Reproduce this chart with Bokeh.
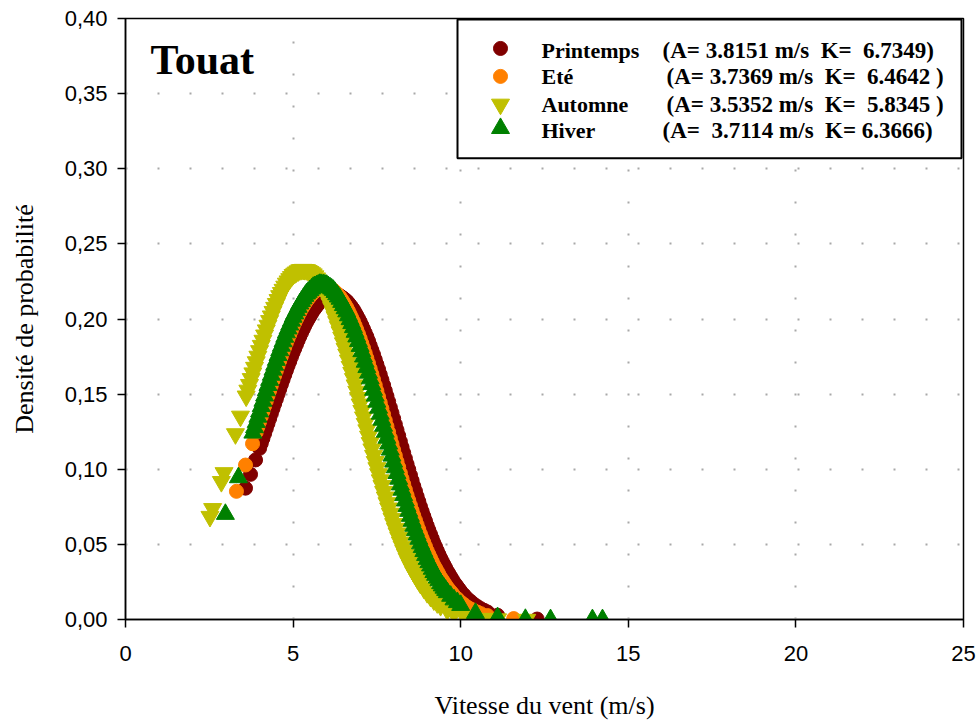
from bokeh.plotting import figure
from bokeh.models import Range1d, FixedTicker, CustomJSTickFormatter, BoxAnnotation, Label
from bokeh.embed import file_html
from bokeh.resources import INLINE

# ---------------- data: Weibull density per season, station Touat ----------------
X_TICKS = [0, 5, 10, 15, 20, 25]
Y_TICKS = [0.0, 0.05, 0.10, 0.15, 0.20, 0.25, 0.30, 0.35, 0.40]

season_names = ["Printemps", "Eté", "Automne", "Hiver"]
season_params = [
    "(A=\u00a03.8151 m/s\u00a0\u00a0K=\u00a0\u00a06.7349)",
    "(A=\u00a03.7369 m/s\u00a0\u00a0K=\u00a0\u00a06.4642 )",
    "(A=\u00a03.5352 m/s\u00a0\u00a0K=\u00a0\u00a05.8345 )",
    "(A=\u00a0\u00a03.7114 m/s\u00a0\u00a0K=\u00a06.3666)",
]

# (wind speed m/s, probability density)
printemps = [
    (3.58, .0874), (3.73, .0966), (3.88, .1062),
    (4.00, .1139), (4.05, .1172), (4.10, .1205), (4.15, .1238), (4.20, .1271), (4.25, .1304),
    (4.30, .1337), (4.35, .1370), (4.40, .1403), (4.45, .1436), (4.50, .1468), (4.55, .1501),
    (4.60, .1533), (4.65, .1565), (4.70, .1596), (4.75, .1628), (4.80, .1659), (4.85, .1689),
    (4.90, .1718), (4.95, .1748), (5.00, .1777), (5.05, .1804), (5.10, .1831), (5.15, .1858),
    (5.20, .1884), (5.25, .1908), (5.30, .1932), (5.35, .1955), (5.40, .1978), (5.45, .1998),
    (5.50, .2017), (5.55, .2036), (5.60, .2055), (5.65, .2070), (5.70, .2085), (5.75, .2099),
    (5.80, .2113), (5.85, .2123), (5.90, .2132), (5.95, .2141), (6.00, .2150), (6.05, .2154),
    (6.10, .2158), (6.15, .2161), (6.20, .2164), (6.25, .2162), (6.30, .2160), (6.35, .2157),
    (6.40, .2154), (6.45, .2146), (6.50, .2138), (6.55, .2129), (6.60, .2120), (6.65, .2107),
    (6.70, .2093), (6.75, .2078), (6.80, .2063), (6.85, .2044), (6.90, .2024), (6.95, .2003),
    (7.00, .1982), (7.05, .1958), (7.10, .1933), (7.15, .1908), (7.20, .1882), (7.25, .1853),
    (7.30, .1823), (7.35, .1793), (7.40, .1763), (7.45, .1730), (7.50, .1697), (7.55, .1664),
    (7.60, .1630), (7.65, .1595), (7.70, .1559), (7.75, .1523), (7.80, .1487), (7.85, .1450),
    (7.90, .1412), (7.95, .1375), (8.00, .1337), (8.05, .1299), (8.10, .1261), (8.15, .1223),
    (8.20, .1185), (8.25, .1147), (8.30, .1109), (8.35, .1072), (8.40, .1034), (8.45, .0998),
    (8.50, .0961), (8.55, .0925), (8.60, .0888), (8.65, .0854), (8.70, .0819), (8.75, .0785),
    (8.80, .0751), (8.85, .0719), (8.90, .0687), (8.95, .0656), (9.00, .0624), (9.05, .0595),
    (9.10, .0566), (9.15, .0538), (9.20, .0509), (9.25, .0484), (9.30, .0458), (9.35, .0433),
    (9.40, .0408), (9.45, .0387), (9.50, .0365), (9.55, .0344), (9.60, .0322), (9.65, .0304),
    (9.70, .0285), (9.75, .0267), (9.80, .0248), (9.85, .0233), (9.90, .0218), (9.95, .0203),
    (10.0, .0188), (10.1, .0163), (10.2, .0139), (10.3, .0120), (10.4, .0101), (10.5, .0086),
    (10.6, .0072), (10.7, .0061), (10.8, .0050), (11.1, .0028), (12.28, .0003),
]

ete = [
    (3.31, .0853), (3.58, .1028), (3.79, .1170),
    (3.90, .1247), (3.95, .1282), (4.00, .1316), (4.05, .1351), (4.10, .1386), (4.15, .1421),
    (4.20, .1455), (4.25, .1489), (4.30, .1523), (4.35, .1557), (4.40, .1591), (4.45, .1624),
    (4.50, .1656), (4.55, .1689), (4.60, .1721), (4.65, .1752), (4.70, .1782), (4.75, .1812),
    (4.80, .1842), (4.85, .1870), (4.90, .1897), (4.95, .1924), (5.00, .1951), (5.05, .1975),
    (5.10, .1999), (5.15, .2022), (5.20, .2045), (5.25, .2065), (5.30, .2084), (5.35, .2102),
    (5.40, .2120), (5.45, .2135), (5.50, .2149), (5.55, .2162), (5.60, .2175), (5.65, .2184),
    (5.70, .2192), (5.75, .2199), (5.80, .2206), (5.85, .2209), (5.90, .2211), (5.95, .2212),
    (6.00, .2212), (6.05, .2208), (6.10, .2204), (6.15, .2198), (6.20, .2192), (6.25, .2182),
    (6.30, .2171), (6.35, .2159), (6.40, .2147), (6.45, .2130), (6.50, .2113), (6.55, .2095),
    (6.60, .2076), (6.65, .2054), (6.70, .2031), (6.75, .2007), (6.80, .1983), (6.85, .1956),
    (6.90, .1928), (6.95, .1899), (7.00, .1870), (7.05, .1838), (7.10, .1806), (7.15, .1773),
    (7.20, .1739), (7.25, .1704), (7.30, .1669), (7.35, .1633), (7.40, .1596), (7.45, .1559),
    (7.50, .1521), (7.55, .1482), (7.60, .1443), (7.65, .1404), (7.70, .1364), (7.75, .1325),
    (7.80, .1285), (7.85, .1246), (7.90, .1207), (7.95, .1168), (8.00, .1128), (8.05, .1090),
    (8.10, .1051), (8.15, .1013), (8.20, .0974), (8.25, .0937), (8.30, .0900), (8.35, .0864),
    (8.40, .0827), (8.45, .0793), (8.50, .0759), (8.55, .0725), (8.60, .0691), (8.65, .0660),
    (8.70, .0629), (8.75, .0598), (8.80, .0567), (8.85, .0540), (8.90, .0512), (8.95, .0485),
    (9.00, .0457), (9.05, .0433), (9.10, .0409), (9.15, .0385), (9.20, .0361), (9.25, .0341),
    (9.30, .0321), (9.35, .0301), (9.40, .0280), (9.45, .0264), (9.50, .0247), (9.55, .0230),
    (9.60, .0213), (9.65, .0200), (9.70, .0186), (9.75, .0173), (9.80, .0159), (9.90, .0138),
    (10.0, .0116), (10.1, .0099), (10.2, .0082), (10.3, .0070), (10.4, .0058), (10.5, .0049),
    (10.6, .0039), (10.8, .0026), (11.58, .0006),
]

automne = [
    (2.52, .0685), (2.60, .0737), (2.86, .0917), (2.94, .0976), (3.28, .1235), (3.43, .1352),
    (3.60, .1486), (3.65, .1525), (3.70, .1563), (3.75, .1602), (3.80, .1640), (3.85, .1677),
    (3.90, .1714), (3.95, .1751), (4.00, .1788), (4.05, .1823), (4.10, .1857), (4.15, .1892),
    (4.20, .1926), (4.25, .1957), (4.30, .1988), (4.35, .2019), (4.40, .2049), (4.45, .2076),
    (4.50, .2102), (4.55, .2128), (4.60, .2154), (4.65, .2175), (4.70, .2196), (4.75, .2217),
    (4.80, .2237), (4.85, .2252), (4.90, .2267), (4.95, .2281), (5.00, .2295), (5.05, .2304),
    (5.10, .2312), (5.15, .2319), (5.20, .2326), (5.25, .2328), (5.30, .2329), (5.35, .2328),
    (5.40, .2327), (5.45, .2321), (5.50, .2315), (5.55, .2307), (5.60, .2299), (5.65, .2286),
    (5.70, .2272), (5.75, .2257), (5.80, .2242), (5.85, .2222), (5.90, .2201), (5.95, .2179),
    (6.00, .2157), (6.05, .2130), (6.10, .2103), (6.15, .2075), (6.20, .2046), (6.25, .2014),
    (6.30, .1981), (6.35, .1948), (6.40, .1914), (6.45, .1877), (6.50, .1840), (6.55, .1803),
    (6.60, .1765), (6.65, .1725), (6.70, .1684), (6.75, .1643), (6.80, .1602), (6.85, .1560),
    (6.90, .1518), (6.95, .1476), (7.00, .1433), (7.05, .1390), (7.10, .1347), (7.15, .1304),
    (7.20, .1261), (7.25, .1219), (7.30, .1176), (7.35, .1134), (7.40, .1091), (7.45, .1050),
    (7.50, .1009), (7.55, .0969), (7.60, .0928), (7.65, .0890), (7.70, .0851), (7.75, .0814),
    (7.80, .0776), (7.85, .0741), (7.90, .0706), (7.95, .0672), (8.00, .0637), (8.05, .0606),
    (8.10, .0575), (8.15, .0545), (8.20, .0514), (8.25, .0487), (8.30, .0459), (8.35, .0433),
    (8.40, .0406), (8.45, .0383), (8.50, .0360), (8.55, .0338), (8.60, .0315), (8.65, .0296),
    (8.70, .0276), (8.75, .0258), (8.80, .0239), (8.90, .0208), (9.00, .0178), (9.10, .0153),
    (9.20, .0129), (9.30, .0110), (9.40, .0092), (9.60, .0064), (9.80, .0043), (10.1, .0024),
    (10.8, .0006), (10.9, .0005), (11.1, .0003), (11.97, .0000),
]

hiver = [
    (2.98, .0701), (3.37, .0945),
    (3.80, .1242), (3.85, .1278), (3.90, .1313), (3.95, .1348), (4.00, .1383), (4.05, .1419),
    (4.10, .1454), (4.15, .1489), (4.20, .1524), (4.25, .1559), (4.30, .1593), (4.35, .1627),
    (4.40, .1661), (4.45, .1694), (4.50, .1726), (4.55, .1758), (4.60, .1790), (4.65, .1820),
    (4.70, .1850), (4.75, .1880), (4.80, .1909), (4.85, .1935), (4.90, .1961), (4.95, .1987),
    (5.00, .2013), (5.05, .2035), (5.10, .2057), (5.15, .2079), (5.20, .2101), (5.25, .2118),
    (5.30, .2135), (5.35, .2152), (5.40, .2168), (5.45, .2179), (5.50, .2190), (5.55, .2201),
    (5.60, .2212), (5.65, .2217), (5.70, .2222), (5.75, .2227), (5.80, .2232), (5.85, .2231),
    (5.90, .2229), (5.95, .2227), (6.00, .2225), (6.05, .2217), (6.10, .2209), (6.15, .2201),
    (6.20, .2192), (6.25, .2178), (6.30, .2163), (6.35, .2148), (6.40, .2133), (6.45, .2112),
    (6.50, .2091), (6.55, .2070), (6.60, .2049), (6.65, .2023), (6.70, .1997), (6.75, .1971),
    (6.80, .1944), (6.85, .1913), (6.90, .1882), (6.95, .1851), (7.00, .1819), (7.05, .1784),
    (7.10, .1749), (7.15, .1714), (7.20, .1678), (7.25, .1641), (7.30, .1603), (7.35, .1565),
    (7.40, .1527), (7.45, .1488), (7.50, .1448), (7.55, .1408), (7.60, .1368), (7.65, .1328),
    (7.70, .1288), (7.75, .1248), (7.80, .1208), (7.85, .1169), (7.90, .1129), (7.95, .1089),
    (8.00, .1049), (8.05, .1011), (8.10, .0973), (8.15, .0935), (8.20, .0897), (8.25, .0862),
    (8.30, .0826), (8.35, .0790), (8.40, .0754), (8.45, .0721), (8.50, .0688), (8.55, .0655),
    (8.60, .0622), (8.65, .0593), (8.70, .0564), (8.75, .0535), (8.80, .0505), (8.85, .0480),
    (8.90, .0454), (8.95, .0428), (9.00, .0402), (9.05, .0380), (9.10, .0358), (9.15, .0336),
    (9.20, .0314), (9.25, .0296), (9.30, .0277), (9.35, .0259), (9.40, .0240), (9.45, .0225),
    (9.50, .0210), (9.55, .0195), (9.60, .0180), (9.70, .0156), (9.80, .0132), (9.90, .0114),
    (10.0, .0095), (10.44, .0042), (11.1, .0014), (11.93, .0002), (12.68, .0000),
    (13.93, .0000), (14.23, .0000),
]

# ---------------- layout ----------------
W, H = 978, 722
FL, FR, FT, FB = 125, 963, 18, 620      # plot frame edges (px)
X_MAX, Y_MAX = 25, 0.40

def dx(px):
    return (px - FL) / (FR - FL) * X_MAX

def dy(py):
    return (FB - py) / (FB - FT) * Y_MAX

SERIF = "Liberation Serif"
SANS = "Liberation Sans"

p = figure(width=W, height=H, output_backend="svg", toolbar_location=None,
           x_range=Range1d(0, X_MAX), y_range=Range1d(0, Y_MAX),
           min_border_left=FL, min_border_right=W - FR,
           min_border_top=FT, min_border_bottom=H - FB)
p.background_fill_color = "white"
p.border_fill_color = "white"
p.outline_line_color = "black"
p.outline_line_width = 1.5

# dotted grid
for g, ticks in ((p.xgrid, X_TICKS), (p.ygrid, Y_TICKS)):
    g.ticker = FixedTicker(ticks=ticks)
    g.grid_line_color = "#a8a8a8"
    g.grid_line_width = 2
    g.grid_line_dash = "2 30"

# axes
p.xaxis.ticker = FixedTicker(ticks=X_TICKS)
p.yaxis.ticker = FixedTicker(ticks=Y_TICKS)
p.yaxis.formatter = CustomJSTickFormatter(code="return tick.toFixed(2).replace('.', ',');")
for ax in (p.xaxis, p.yaxis):
    ax.axis_line_color = "black"
    ax.axis_line_width = 1.5
    ax.major_tick_line_color = "black"
    ax.major_tick_line_width = 1.5
    ax.major_tick_in = 0
    ax.major_tick_out = 8
    ax.minor_tick_in = 0
    ax.minor_tick_out = 0
    ax.major_label_text_font = SANS
    ax.major_label_text_font_size = "22px"
    ax.major_label_text_color = "black"
    ax.axis_label_text_font = SERIF
    ax.axis_label_text_font_size = "26px"
    ax.axis_label_text_font_style = "normal"
    ax.axis_label_text_color = "black"
p.xaxis.major_label_standoff = 18
p.yaxis.major_label_standoff = 10
p.xaxis.axis_label = "Vitesse du vent (m/s)"
p.yaxis.axis_label = "Densité de probabilité"
p.xaxis.axis_label_standoff = 27
p.yaxis.axis_label_standoff = 23

# season markers (drawn in legend order)
colors = ["#800000", "#ff8000", "#c0c000", "#008000"]
markers = ["circle", "circle", "inverted_triangle", "triangle"]
sizes = [14, 14, 18, 18]
series = [printemps, ete, automne, hiver]
for pts, c, m, s in zip(series, colors, markers, sizes):
    xs = [pt[0] for pt in pts]
    ys = [pt[1] for pt in pts]
    p.scatter(xs, ys, marker=m, size=s, fill_color=c, line_color=c)

# station name
p.add_layout(Label(x=dx(150), y=dy(60), text="Touat", text_font=SERIF,
                   text_font_style="bold", text_font_size="42px",
                   text_color="black", text_baseline="middle"))

# legend box
p.add_layout(BoxAnnotation(left=dx(457), right=dx(961), top=dy(19), bottom=dy(158),
                           fill_color="white", fill_alpha=1.0,
                           line_color="black", line_width=2, line_alpha=1.0))
row_marker_y = [48, 76, 104, 128]
row_text_y = [50, 76, 104, 130]
param_x = [662, 666, 666, 662]
for i in range(4):
    r = p.scatter([dx(500)], [dy(row_marker_y[i])], marker=markers[i], size=sizes[i],
                  fill_color=colors[i], line_color=colors[i])
    r.level = "overlay"
    p.add_layout(Label(x=dx(541), y=dy(row_text_y[i]), text=season_names[i],
                       text_font=SERIF, text_font_style="bold", text_font_size="22px",
                       text_color="black", text_baseline="middle"))
    p.add_layout(Label(x=dx(param_x[i]), y=dy(row_text_y[i]), text=season_params[i],
                       text_font=SERIF, text_font_style="bold", text_font_size="23px",
                       text_color="black", text_baseline="middle"))

open("out.html", "w").write(file_html(p, INLINE))
